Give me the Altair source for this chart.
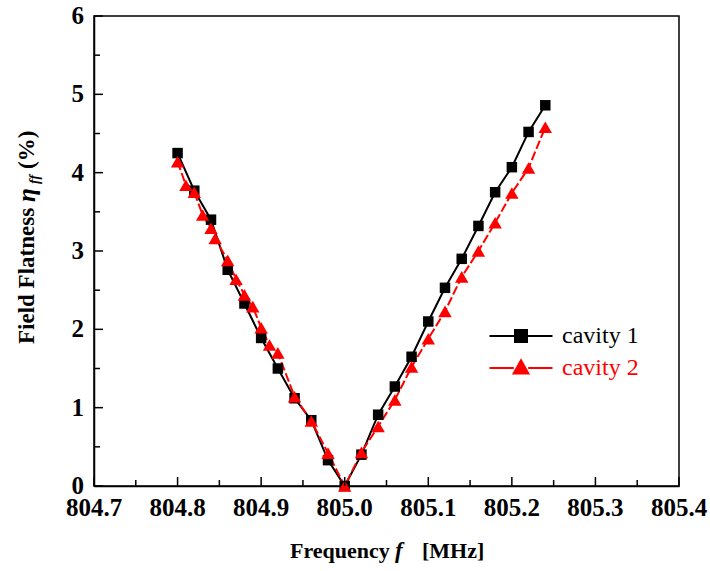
import altair as alt
import pandas as pd

# ---- data ----
c1_freq = [804.80, 804.82, 804.84, 804.86, 804.88, 804.90, 804.92, 804.94, 804.96, 804.98,
           805.00, 805.02, 805.04, 805.06, 805.08, 805.10, 805.12, 805.14, 805.16, 805.18,
           805.20, 805.22, 805.24]
c1_ff = [4.25, 3.77, 3.40, 2.76, 2.33, 1.89, 1.50, 1.12, 0.84, 0.33,
         0.00, 0.40, 0.91, 1.27, 1.65, 2.10, 2.53, 2.90, 3.32, 3.75,
         4.07, 4.52, 4.86]

c2_freq = [804.80, 804.81, 804.82, 804.83, 804.84, 804.845, 804.86, 804.87, 804.88, 804.89,
           804.90, 804.91, 804.92, 804.94, 804.96, 804.98, 805.00, 805.02, 805.04, 805.06,
           805.08, 805.10, 805.12, 805.14, 805.16, 805.18, 805.20, 805.22, 805.24]
c2_ff = [4.14, 3.84, 3.75, 3.46, 3.29, 3.16, 2.88, 2.64, 2.44, 2.29,
         2.02, 1.80, 1.70, 1.14, 0.83, 0.42, 0.00, 0.43, 0.76, 1.10,
         1.52, 1.88, 2.23, 2.67, 3.00, 3.36, 3.74, 4.06, 4.58]

series_names = ["cavity 1", "cavity 2"]
series_colors = ["#000000", "#ff0000"]

x_major = [804.7, 804.8, 804.9, 805.0, 805.1, 805.2, 805.3, 805.4]
x_minor = [804.75, 804.85, 804.95, 805.05, 805.15, 805.25, 805.35]
y_major = [0, 1, 2, 3, 4, 5, 6]
y_minor = [0.5, 1.5, 2.5, 3.5, 4.5, 5.5]

W, H = 585, 470
FONT = "Liberation Serif"

df1 = pd.DataFrame({"f": c1_freq, "v": c1_ff, "series": series_names[0]})
df2 = pd.DataFrame({"f": c2_freq, "v": c2_ff, "series": series_names[1]})
df_all = pd.concat([df1, df2], ignore_index=True)

xs = alt.Scale(domain=[804.7, 805.4], nice=False, zero=False)
ys = alt.Scale(domain=[0, 6], nice=False)

axis_style = dict(title=None, grid=False, ticks=False, tickSize=0, labels=False,
                  domainColor="black", domainWidth=1.5)
x_axis = alt.Axis(values=x_major, **axis_style)
y_axis = alt.Axis(values=y_major, **axis_style)

base1 = alt.Chart(df1)
base2 = alt.Chart(df2)

line1 = base1.mark_line(color="black", strokeWidth=2).encode(
    x=alt.X("f:Q", scale=xs, axis=x_axis), y=alt.Y("v:Q", scale=ys, axis=y_axis))
pts1 = base1.mark_point(shape="square", filled=True, color="black", size=110, opacity=1).encode(
    x=alt.X("f:Q", scale=xs, axis=x_axis), y=alt.Y("v:Q", scale=ys, axis=y_axis))
line2 = base2.mark_line(color="#ff0000", strokeWidth=2, strokeDash=[9, 3]).encode(
    x=alt.X("f:Q", scale=xs, axis=x_axis), y=alt.Y("v:Q", scale=ys, axis=y_axis))
pts2 = base2.mark_point(shape="triangle-up", filled=True, color="#ff0000", size=180, opacity=1).encode(
    x=alt.X("f:Q", scale=xs, axis=x_axis), y=alt.Y("v:Q", scale=ys, axis=y_axis))

# legend (native) built from an empty layer carrying the series scales
# symbol box is 20px (size 400 -> 10px per path unit); the line reaches +-3.15 units
sq_path = "M-3.15,0H-0.6M0.6,0H3.15M-0.6,-0.6H0.6V0.6H-0.6Z"
tri_path = "M-3.15,0H-0.72M0.72,0H3.15M0,-0.78L0.74,0.56H-0.74Z"
leg = alt.Legend(title=None, orient="none", legendX=415, legendY=308, padding=0,
                 symbolSize=400, symbolStrokeWidth=2, rowPadding=8,
                 labelFont=FONT, labelFontWeight="normal", labelFontSize=24, labelOffset=29,
                 labelLimit=300,
                 labelColor=alt.ExprRef(expr="datum.label == 'cavity 2' ? '#ff0000' : '#000000'"))
legend_layer = alt.Chart(df_all).transform_filter("false").mark_point(size=400, opacity=1).encode(
    x=alt.X("f:Q", scale=xs, axis=x_axis), y=alt.Y("v:Q", scale=ys, axis=y_axis),
    shape=alt.Shape("series:N", scale=alt.Scale(domain=series_names, range=[sq_path, tri_path]), legend=leg),
    fill=alt.Fill("series:N", scale=alt.Scale(domain=series_names, range=series_colors), legend=leg),
    stroke=alt.Stroke("series:N", scale=alt.Scale(domain=series_names, range=series_colors), legend=leg),
)

# inward ticks
def yticks(vals, length):
    return alt.Chart(pd.DataFrame({"t": vals})).mark_rule(color="black", strokeWidth=1.5).encode(
        y=alt.Y("t:Q", scale=ys, axis=y_axis), x=alt.value(0), x2=alt.value(length))

def xticks(vals, length):
    return alt.Chart(pd.DataFrame({"t": vals})).mark_rule(color="black", strokeWidth=1.5).encode(
        x=alt.X("t:Q", scale=xs, axis=x_axis), y=alt.value(H), y2=alt.value(H - length))

# tick labels (serif bold), placed through the same scales
xlabels = alt.Chart(pd.DataFrame({"t": x_major})).mark_text(
    font=FONT, fontWeight="bold", fontSize=25, align="center", baseline="middle", color="black"
).encode(x=alt.X("t:Q", scale=xs, axis=x_axis), y=alt.value(H + 22),
         text=alt.Text("t:Q", format=".1f"))
ylabels = alt.Chart(pd.DataFrame({"t": y_major})).mark_text(
    font=FONT, fontWeight="bold", fontSize=25, align="right", baseline="middle", color="black"
).encode(y=alt.Y("t:Q", scale=ys, axis=y_axis), x=alt.value(-10),
         text=alt.Text("t:Q", format="d"))

# titles with italic / subscript pieces
def txt(s, x, y, size=21, style="normal", angle=0, align="left"):
    return alt.Chart(pd.DataFrame({"s": [s]})).mark_text(
        font=FONT, fontWeight="bold", fontStyle=style, fontSize=size, angle=angle,
        align=align, baseline="middle", color="black").encode(
        text="s:N", x=alt.value(x), y=alt.value(y))

titles = [
    txt("Frequency", 196, 535, size=22),
    txt("f", 301, 535, size=23, style="italic"),
    txt("[MHz]", 328, 535, size=22),
    txt("Field Flatness", -67, 328, size=23, angle=270),
    txt("η", -67, 186, size=25, style="italic", angle=270),
    txt("ff", -59, 168, size=14, style="italic", angle=270),
    txt("(%)", -67, 153, size=23, angle=270),
]

chart = alt.layer(
    line1, line2, pts1, pts2, legend_layer,
    yticks(y_major, 9), yticks(y_minor, 6), xticks(x_major, 9), xticks(x_minor, 6),
    xlabels, ylabels,
    *titles
).properties(
    width=W, height=H, autosize="none", background="white",
    padding={"left": 94, "top": 16, "right": 31, "bottom": 85},
).configure_view(stroke="black", strokeWidth=1.5)

chart.save("out.html", embed_options={"renderer": "svg", "actions": False})
